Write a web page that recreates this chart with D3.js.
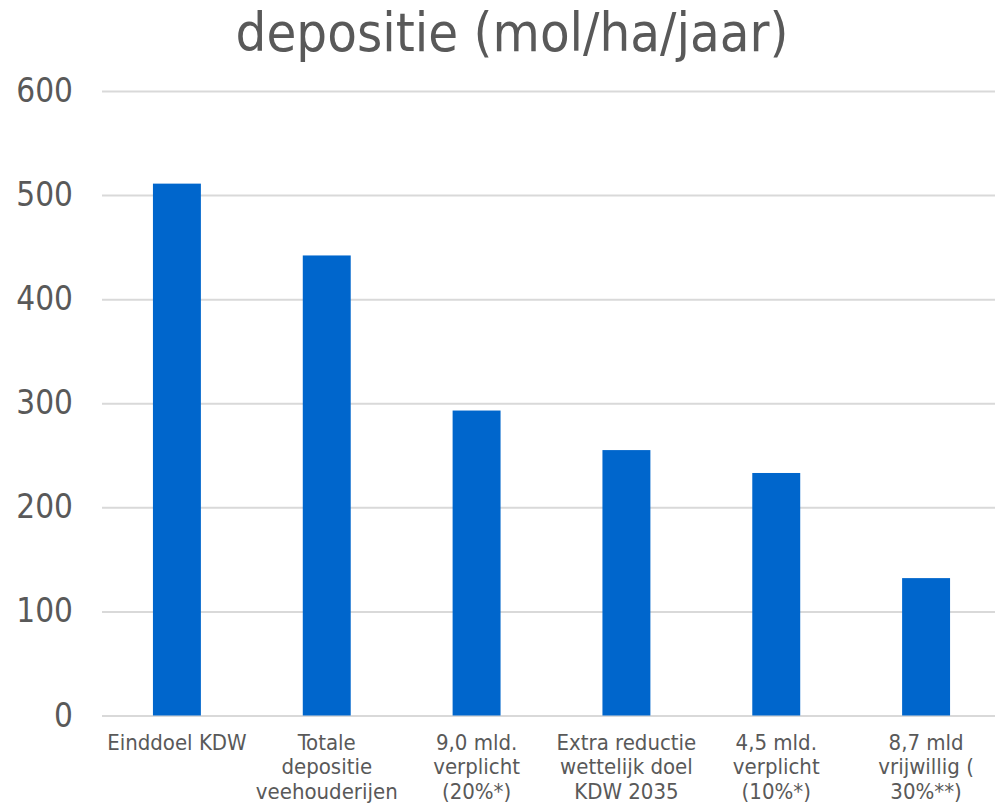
<!DOCTYPE html>
<html>
<head>
<meta charset="utf-8">
<script src="https://cdn.jsdelivr.net/npm/d3@7"></script>
<style>
  html, body { margin: 0; padding: 0; background: #fff; }
  svg { display: block; }
  text { font-family: "DejaVu Sans Condensed", "DejaVu Sans", Verdana, sans-serif; font-stretch: condensed; }
</style>
</head>
<body>
<svg id="chart" width="995" height="805"></svg>
<script>
const title = "depositie (mol/ha/jaar)";
const categories = [
  ["Einddoel KDW"],
  ["Totale", "depositie", "veehouderijen"],
  ["9,0 mld.", "verplicht", "(20%*)"],
  ["Extra reductie", "wettelijk doel", "KDW 2035"],
  ["4,5 mld.", "verplicht", "(10%*)"],
  ["8,7 mld", "vrijwillig (", "30%**)"]
];
const values = [511, 442, 293, 255, 233, 132];
const yTicks = [0, 100, 200, 300, 400, 500, 600];

const svg = d3.select("#chart");
const W = 995, H = 805;
const margin = { left: 102, right: -6, top: 91, bottom: 89.5 };

const x = d3.scaleBand()
  .domain(d3.range(categories.length))
  .range([margin.left, W - margin.right])
  .paddingInner(0.68)
  .paddingOuter(0.34);

const y = d3.scaleLinear()
  .domain([0, 600])
  .range([H - margin.bottom, margin.top]);

// title
svg.append("text")
  .attr("x", 512)
  .attr("y", 51)
  .attr("text-anchor", "middle")
  .attr("font-size", 54)
  .attr("fill", "#595959")
  .text(title);

// gridlines
const yAxis = d3.axisLeft(y).tickValues(yTicks).tickSize(-(W - margin.left)).tickPadding(29);
const gy = svg.append("g")
  .attr("transform", `translate(${margin.left},0)`)
  .call(yAxis);
gy.select(".domain").remove();
gy.selectAll(".tick line").attr("stroke", "#d9d9d9").attr("stroke-width", 2);
gy.selectAll(".tick text")
  .attr("font-size", 33)
  .attr("fill", "#595959")
  .attr("font-family", "'DejaVu Sans Condensed', 'DejaVu Sans', sans-serif");

// bars
svg.append("g").selectAll("rect")
  .data(values)
  .join("rect")
  .attr("x", (d, i) => x(i))
  .attr("y", d => y(d))
  .attr("width", x.bandwidth())
  .attr("height", d => y(0) - y(d))
  .attr("fill", "#0066cc");

// category labels
const xAxis = d3.axisBottom(x).tickSize(0).tickFormat(() => "");
const gx = svg.append("g")
  .attr("transform", `translate(0,${y(0)})`)
  .call(xAxis);
gx.select(".domain").remove();
gx.selectAll(".tick").each(function(d) {
  const t = d3.select(this).append("text")
    .attr("text-anchor", "middle")
    .attr("font-size", 22)
    .attr("fill", "#595959");
  categories[d].forEach((line, k) => {
    t.append("tspan").attr("x", 0).attr("y", 34 + k * 24.5).text(line);
  });
});
</script>
</body>
</html>
